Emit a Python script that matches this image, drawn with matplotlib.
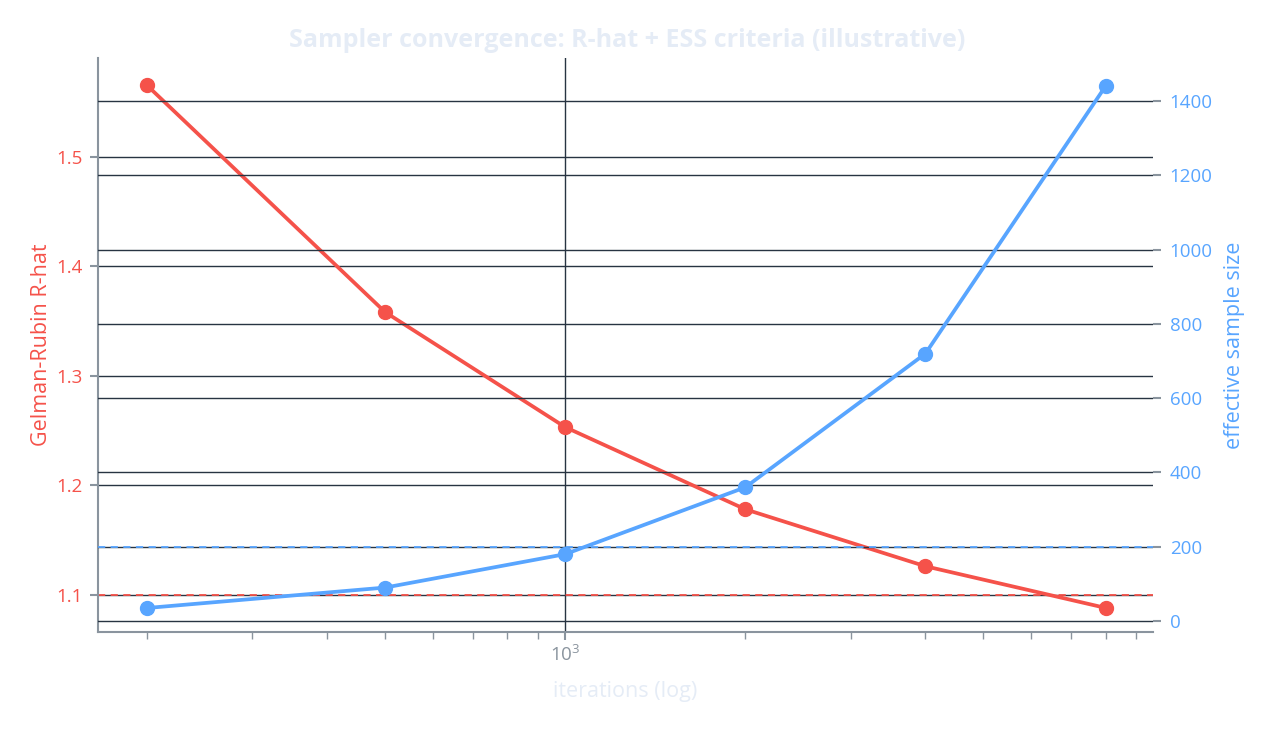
import matplotlib
matplotlib.use("Agg")
import matplotlib.pyplot as plt
from matplotlib.ticker import LogLocator, FixedLocator, NullFormatter

plt.rcParams['font.family'] = ['Open Sans', 'DejaVu Sans']

iterations = [200, 500, 1000, 2000, 4000, 8000]
rhat = [1.565, 1.358, 1.253, 1.178, 1.126, 1.088]
ess = [35, 90, 180, 360, 720, 1440]
rhat_threshold = 1.1
ess_threshold = 200
rhat_ticks = [1.1, 1.2, 1.3, 1.4, 1.5]
ess_ticks = [0, 200, 400, 600, 800, 1000, 1200, 1400]

RED = '#F5524A'
BLUE = '#58A5FF'
GRID = '#283442'
AXC = '#8A949E'
LIGHT = '#E5ECF6'

fig = plt.figure(figsize=(12.7, 7.29), dpi=100)
ax = fig.add_axes([0.0772, 0.1331, 0.9079 - 0.0772, 0.9204 - 0.1331])
ax2 = ax.twinx()

ax.set_xscale('log')
ax.set_xlim(165.6, 9606)
ax.set_ylim(1.066, 1.590)
ax2.set_ylim(-29.6, 1516)

ax.yaxis.set_major_locator(FixedLocator(rhat_ticks))
ax2.yaxis.set_major_locator(FixedLocator(ess_ticks))
ax.xaxis.set_major_locator(LogLocator(base=10, numticks=10))
ax.xaxis.set_minor_locator(LogLocator(base=10, subs=range(2, 10), numticks=20))
ax.xaxis.set_minor_formatter(NullFormatter())

for a in (ax, ax2):
    a.set_facecolor('none')
    for s in a.spines.values():
        s.set_visible(False)
ax.spines['left'].set_visible(True)
ax.spines['left'].set_color(AXC)
ax.spines['left'].set_linewidth(1.5)
ax.spines['bottom'].set_visible(True)
ax.spines['bottom'].set_color(AXC)
ax.spines['bottom'].set_linewidth(1.5)

ax.grid(True, axis='y', color=GRID, linewidth=1.0)
ax.grid(True, axis='x', which='major', color=GRID, linewidth=1.0)
ax2.grid(True, axis='y', color=GRID, linewidth=1.0)
ax.set_axisbelow(True)
ax2.set_axisbelow(True)

ax.tick_params(axis='y', colors=AXC, labelcolor=RED, labelsize=13.5, length=6, width=1.5, pad=5)
ax2.tick_params(axis='y', colors=AXC, labelcolor=BLUE, labelsize=13.5, length=6, width=1.5, pad=6)
ax.tick_params(axis='x', which='major', colors=AXC, labelcolor=AXC, labelsize=13.5, length=6, width=1.5)
ax.tick_params(axis='x', which='minor', colors=AXC, length=5, width=1.0)

ax.axhline(rhat_threshold, color=RED, linestyle=(0, (4, 3)), linewidth=1.3, zorder=1.5)
ax2.axhline(ess_threshold, color=BLUE, linestyle=(0, (4, 3)), linewidth=1.3, zorder=1.5)

ax.plot(iterations, rhat, color=RED, linewidth=2.7, marker='o', markersize=10, zorder=3)
ax2.plot(iterations, ess, color=BLUE, linewidth=2.7, marker='o', markersize=10, zorder=3)

ax.set_ylabel('Gelman-Rubin R-hat', color=RED, fontsize=15.5, labelpad=3)
ax2.set_ylabel('effective sample size', color=BLUE, fontsize=15.5, labelpad=8)
ax.set_xlabel('iterations (log)', color=LIGHT, fontsize=15.5, labelpad=11)

fig.text(0.4937, 0.945, 'Sampler convergence: R-hat + ESS criteria (illustrative)',
         color=LIGHT, fontsize=18, fontweight='bold', ha='center', va='center')

fig.savefig('out.png', dpi=100, facecolor='white')
